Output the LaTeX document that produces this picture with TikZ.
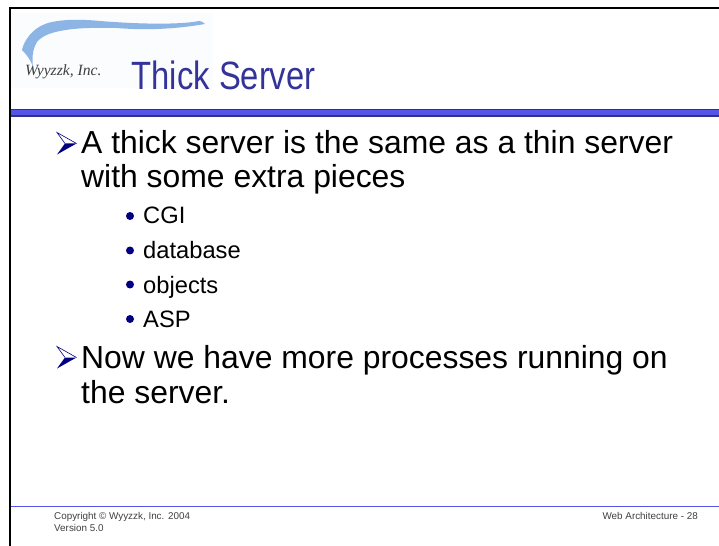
\documentclass[tikz,border=0pt]{standalone}
\usepackage{fontspec}
\setmainfont{Liberation Sans}
\newfontfamily\logofont{Liberation Serif}
\newfontfamily\titlefont[FakeStretch=0.83]{Liberation Sans}
\definecolor{titleblue}{RGB}{51,51,153}
\definecolor{barblue}{RGB}{85,85,230}
\definecolor{bardark}{RGB}{50,50,140}
\definecolor{bulletblue}{RGB}{0,0,128}
\definecolor{swoosh}{RGB}{140,180,228}
\definecolor{logobg}{RGB}{250,252,254}
\tikzset{
  x=1bp,y=-1bp,
  bodytext/.style={anchor=base west,inner sep=0pt,font=\fontsize{32}{36}\selectfont},
  subtext/.style={anchor=base west,inner sep=0pt,font=\fontsize{23.8}{28}\selectfont},
  foot/.style={anchor=base west,inner sep=0pt,font=\fontsize{9.9}{12}\selectfont,text=black!75},
  dotbullet/.style={circle,fill=bulletblue,inner sep=0pt,minimum size=8bp},
}
\begin{document}
\begin{tikzpicture}
\useasboundingbox (0,0) rectangle (719,546);
\fill[white] (0,0) rectangle (719,546);
% logo
\fill[logobg] (11,13) rectangle (213,88);
\fill[swoosh] (205,24) .. controls (203,22) and (201,21) .. (199,21)
  .. controls (185,24) and (150,25) .. (100,21)
  .. controls (80,19) and (55,19) .. (43,25)
  .. controls (33,29) and (24,40) .. (22,50)
  .. controls (26,54) and (31,60) .. (33,67)
  .. controls (32,60) and (32,50) .. (37,42)
  .. controls (42,36) and (50,33) .. (60,31)
  .. controls (80,27) and (100,28) .. (117,28)
  .. controls (140,30) and (170,30) .. (205,24) -- cycle;
\node[anchor=base west,inner sep=0pt,text=black!75,font=\logofont\itshape\fontsize{15.7}{18}\selectfont] (logo) at (25,76) {Wyyzzk, Inc.};
% title
\node[anchor=base west,inner sep=0pt,text=titleblue,font=\titlefont\fontsize{39.6}{44}\selectfont] (title) at (131.5,90) {Thick Server};
% rules
\fill[barblue] (11,109) rectangle (719,116.7);
\fill[bardark] (11,109) rectangle (719,110.2);
\fill[bardark] (11,115.5) rectangle (719,116.7);
\fill[barblue] (11,505.5) rectangle (719,506.7);
% frame
\draw[black,line width=2bp] (719,8) -- (10,8) -- (10,546);
% body
\node[bodytext] (l1) at (81,154) {A thick server is the same as a thin server};
\node[bodytext] (l2) at (81,188) {with some extra pieces};
\node[subtext] (s1) at (143,224) {CGI};
\node[subtext] (s2) at (143,259) {database};
\node[subtext] (s3) at (143,293) {objects};
\node[subtext] (s4) at (143,327) {ASP};
\node[bodytext] (l3) at (81,368) {Now we have more processes running on};
\node[bodytext] (l4) at (81,403) {the server.};
\foreach \n/\y in {b1/216,b2/250.5,b3/284.5,b4/319}
  \node[dotbullet] (\n) at (130,\y) {};
\foreach \n/\y in {a1/143.5,a3/357.5}{
  \fill[bulletblue] (57,\y+11) -- (76.5,\y) -- (65,\y) -- cycle;
  \draw[bulletblue,line width=0.6bp] (76.5,\y) -- (57,\y-11) -- (65,\y);
}
% footer
\node[foot] (f1) at (54,519.5) {Copyright © Wyyzzk, Inc. 2004};
\node[foot] (f2) at (54,531.7) {Version 5.0};
\node[foot,anchor=base east] (f3) at (698,519.5) {Web Architecture - 28};
\end{tikzpicture}
\end{document}
